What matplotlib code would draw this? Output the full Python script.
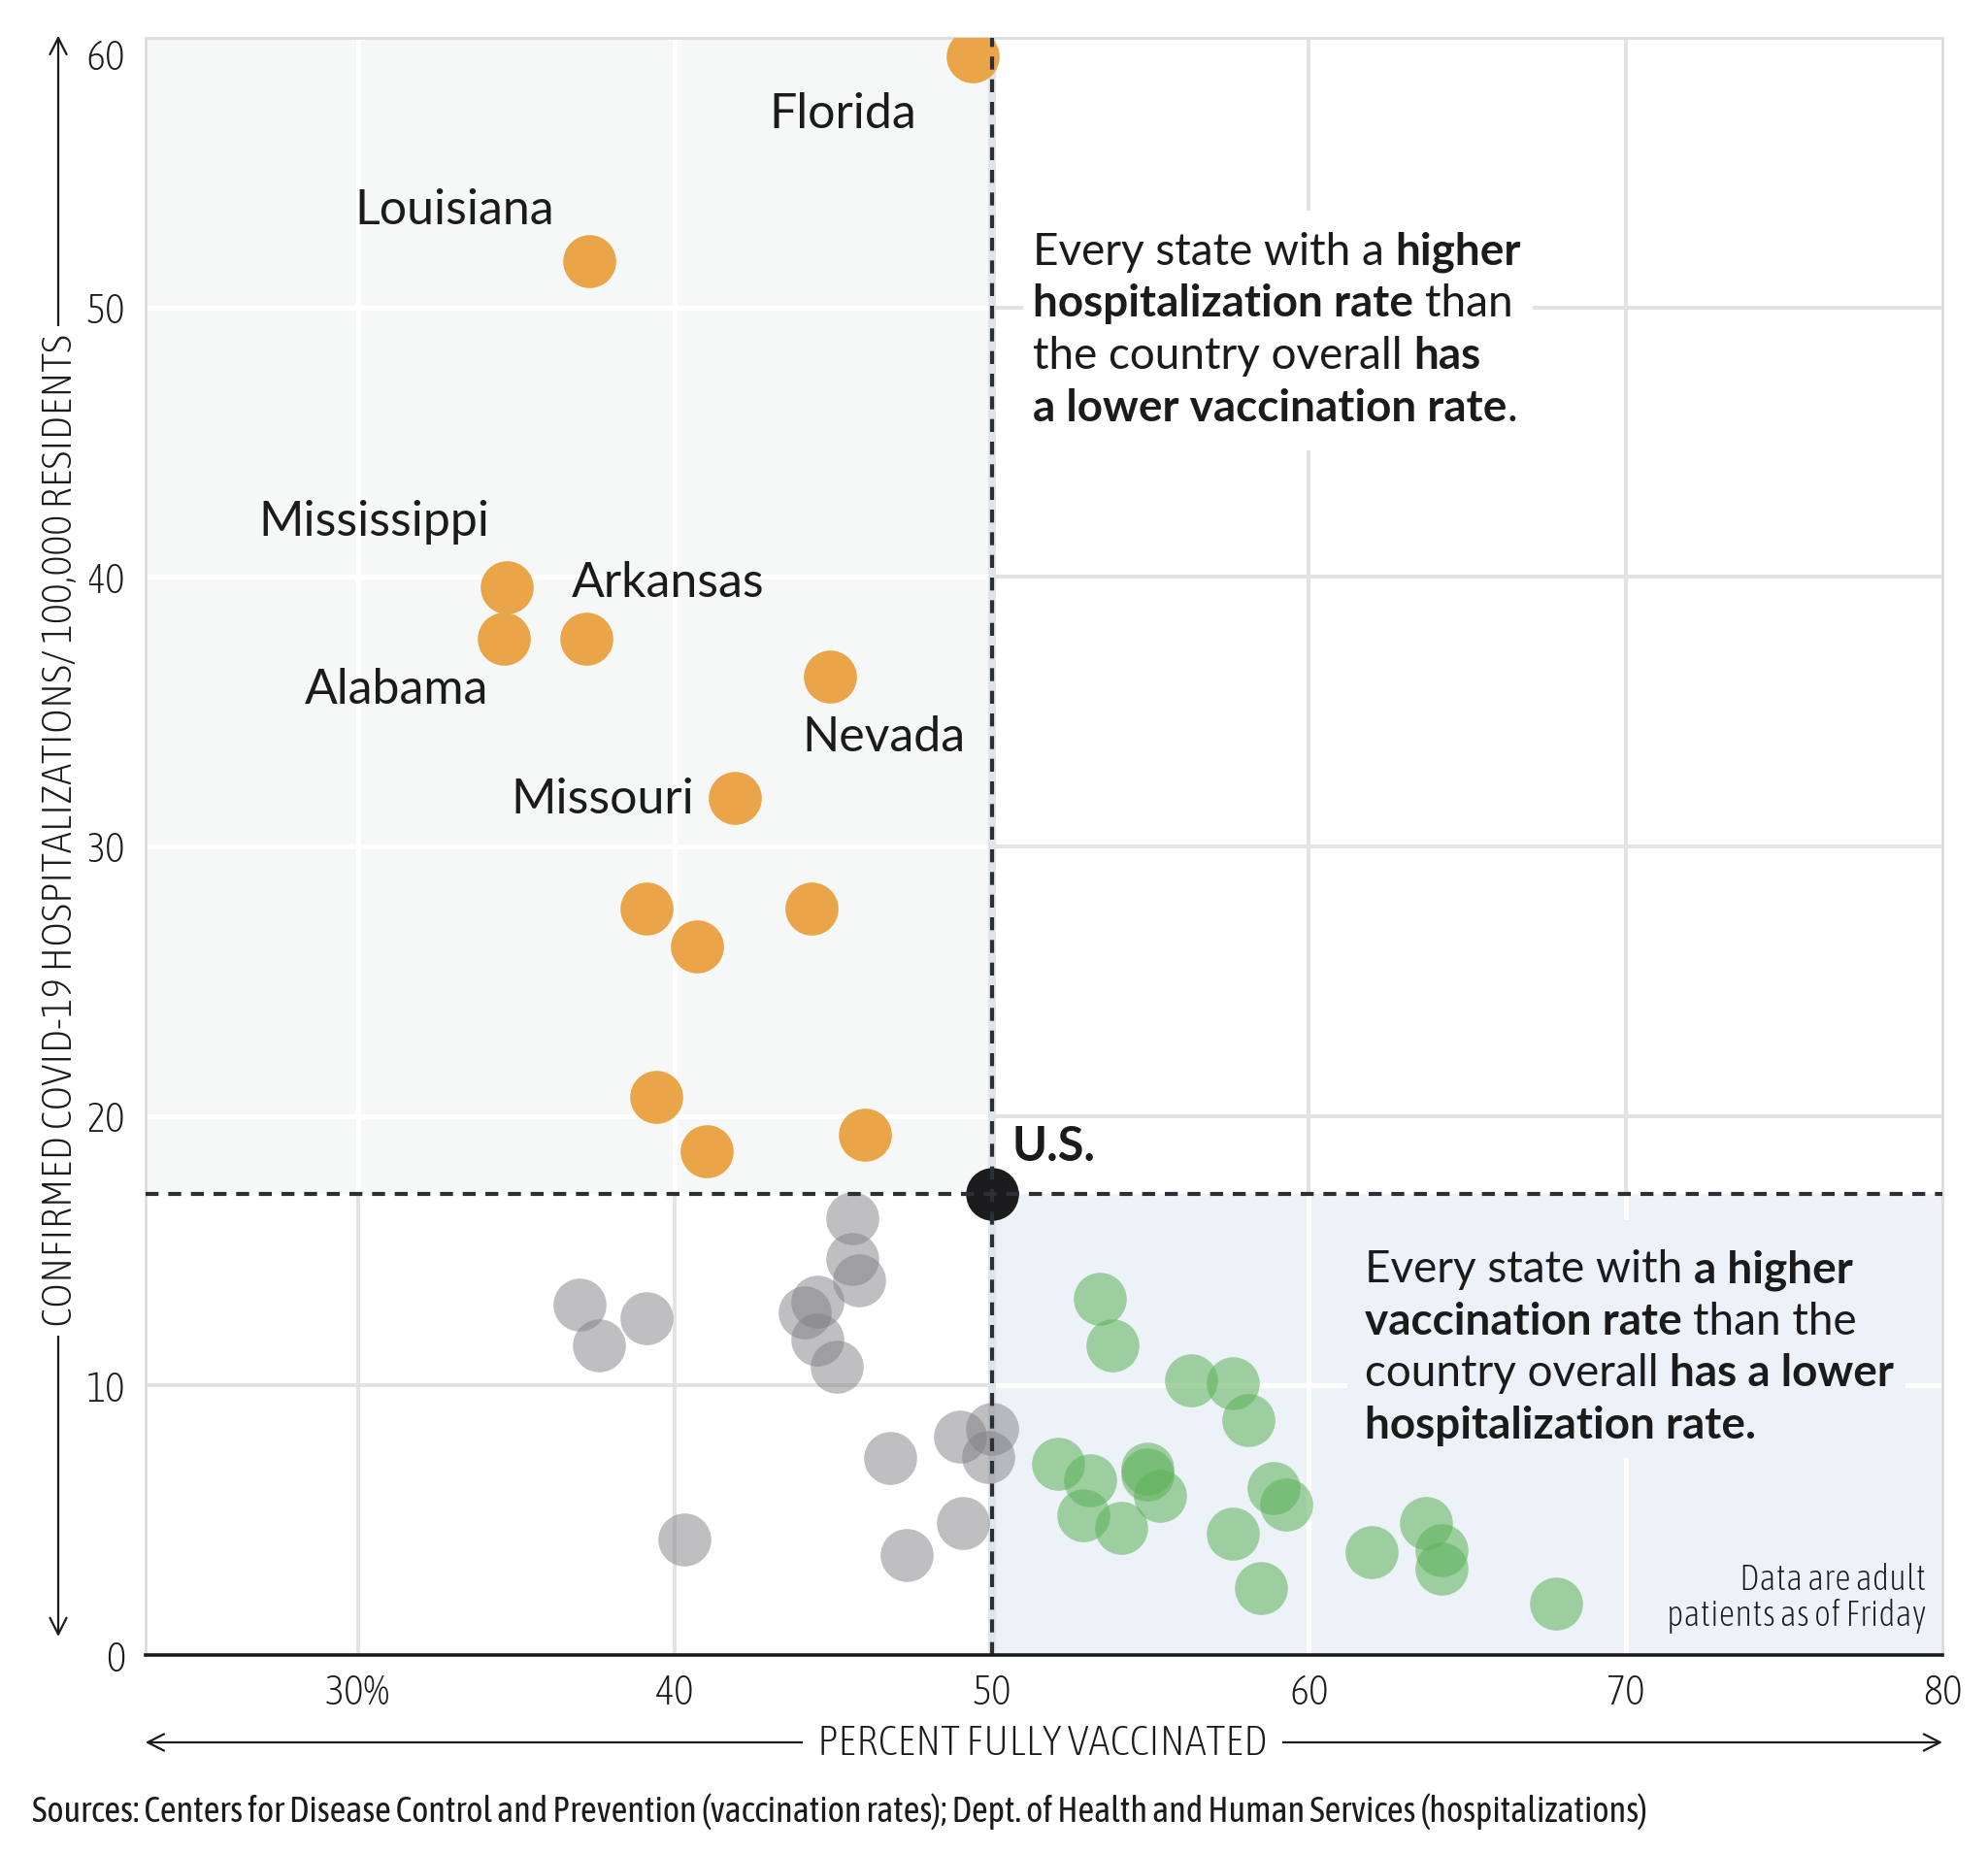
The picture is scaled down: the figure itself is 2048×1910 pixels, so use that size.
import matplotlib
matplotlib.use("Agg")
import matplotlib.pyplot as plt
from matplotlib.patches import Rectangle
from matplotlib.transforms import Bbox

# ---------------- data ----------------
orange_x = [49.4, 37.3, 34.7, 34.6, 37.2, 44.9, 41.9, 39.1, 40.7, 44.3, 39.4, 41.0, 46.0]
orange_y = [59.3, 51.7, 39.6, 37.7, 37.7, 36.3, 31.8, 27.7, 26.3, 27.7, 20.7, 18.7, 19.3]

gray_x = [45.6, 45.6, 45.8, 37.0, 39.1, 37.6, 44.1, 44.5, 44.5, 45.1, 46.8, 49.0, 50.0, 49.9, 40.3, 47.3, 49.1]
gray_y = [16.2, 14.7, 13.9, 13.0, 12.5, 11.5, 12.7, 13.1, 11.7, 10.7, 7.3, 8.1, 8.4, 7.35, 4.3, 3.7, 4.9]

green_x = [53.4, 53.8, 56.3, 57.6, 58.1, 52.1, 53.1, 54.9, 54.9, 55.3, 52.9, 54.1,
           58.9, 59.3, 57.6, 58.5, 62.0, 63.7, 64.2, 64.2, 67.8]
green_y = [13.2, 11.5, 10.2, 10.1, 8.7, 7.1, 6.5, 6.9, 6.7, 5.9, 5.2, 4.7,
           6.2, 5.6, 4.5, 2.5, 3.8, 4.9, 3.9, 3.2, 1.9]

us_x, us_y = 50.0, 17.1

state_names = ["Florida", "Louisiana", "Mississippi", "Arkansas", "Alabama", "Nevada", "Missouri"]

xticks = [30, 40, 50, 60, 70, 80]
xticklabels = ["30%", "40", "50", "60", "70", "80"]
yticks = [0, 10, 20, 30, 40, 50, 60]
yticklabels = ["0", "10", "20", "30", "40", "50", "60"]

# ---------------- layout / style ----------------
label_pos_x = [42.97, 29.91, 26.87, 36.75, 28.31, 44.02, 34.83]
label_pos_y = [56.65, 53.08, 41.51, 39.27, 35.28, 33.52, 31.24]

NARROW = ["Asap Condensed", "Liberation Sans Narrow", "DejaVu Sans"]
NARROW_KW = dict(family=NARROW, fontstretch="condensed")
LABEL = ["Lato", "DejaVu Sans"]
TXT = "#1b1b1b"
ORANGE = "#eaa548"
GRAY = "#808185"
GREEN = "#5cb257"
GRID = "#e3e3e3"
SHADE_GRAY = "#f6f7f7"
SHADE_BLUE = "#edf2f9"
DASH = "#2b3036"

W, H = 2048, 1910
fig = plt.figure(figsize=(W / 100, H / 100), dpi=100)
ax_l, ax_r, ax_t, ax_b = 149.7, 2001.0, 39.0, 1705.0
ax = fig.add_axes([ax_l / W, (H - ax_b) / H, (ax_r - ax_l) / W, (ax_b - ax_t) / H])
ax.set_xlim(23.29, 80)
ax.set_ylim(0, 60)
ax.set_facecolor("white")

# spines
for s in ["left", "top", "right"]:
    ax.spines[s].set_color("#dddddd")
    ax.spines[s].set_linewidth(2.0)
ax.spines["bottom"].set_color("#1b1b1b")
ax.spines["bottom"].set_linewidth(2.6)
ax.spines["bottom"].set_zorder(8)

# ticks
ax.set_xticks(xticks, labels=xticklabels)
ax.set_yticks(yticks, labels=yticklabels)
ax.tick_params(length=0, labelsize=31, labelcolor=TXT)
ax.tick_params(axis="x", pad=13)
ax.tick_params(axis="y", pad=15)
for lab in ax.get_xticklabels() + ax.get_yticklabels():
    lab.set_family(NARROW)
    lab.set_fontstretch("condensed")
    lab.set_fontweight("light")
for lab in ax.get_yticklabels():
    if lab.get_text() == "60":
        lab.set_verticalalignment("top")

# gridlines (gray in white areas, white inside shaded quadrants)
glw = 2.9
for xv in xticks[:-1]:
    ax.axvline(xv, color=GRID, lw=glw, zorder=0.5)
for yv in yticks[1:-1]:
    ax.axhline(yv, color=GRID, lw=glw, zorder=0.5)

x0, x1 = ax.get_xlim()
y0, y1 = ax.get_ylim()
rect_ul = Rectangle((x0, us_y), us_x - x0, y1 - us_y, facecolor=SHADE_GRAY, edgecolor="none", zorder=0.6)
rect_lr = Rectangle((us_x, y0), x1 - us_x, us_y - y0, facecolor=SHADE_BLUE, edgecolor="none", zorder=0.6)
ax.add_patch(rect_ul)
ax.add_patch(rect_lr)
for rect in (rect_ul, rect_lr):
    for xv in xticks[:-1]:
        if xv == us_x:
            continue
        ln = ax.axvline(xv, color="white", lw=glw * 1.3, zorder=0.7)
        ln.set_clip_path(rect)
    for yv in yticks[1:-1]:
        ln = ax.axhline(yv, color="white", lw=glw * 1.3, zorder=0.7)
        ln.set_clip_path(rect)
# light band under the vertical reference line
ax.axvline(us_x, color="#e1e4e8", lw=5.8, zorder=0.8)

# points
S = 1545
ax.scatter(gray_x, gray_y, s=S, color=GRAY, alpha=0.5, linewidths=0, zorder=3)
ax.scatter(green_x, green_y, s=S, color=GREEN, alpha=0.55, linewidths=0, zorder=3)
ax.scatter(orange_x, orange_y, s=S, color=ORANGE, linewidths=0, zorder=3)
ax.scatter([us_x], [us_y], s=1530, color="#1c1c1e", linewidths=0, zorder=3.5)

# reference dashed lines
ax.axhline(us_y, color=DASH, lw=3.0, linestyle=(0, (3.2, 2.4)), zorder=4)
ax.axvline(us_x, color=DASH, lw=3.0, linestyle=(0, (3.2, 2.4)), zorder=4)

# state labels
for name, lx, ly in zip(state_names, label_pos_x, label_pos_y):
    ax.text(lx, ly, name, fontsize=36, family=LABEL, color=TXT, ha="left", va="baseline", zorder=6)
ax.text(50.65, 18.33, "U.S.", fontsize=35, family=LABEL, fontweight="bold", color=TXT,
        ha="left", va="baseline", zorder=6)

# ---------------- rich text annotations ----------------
renderer = fig.canvas.get_renderer()


def text_width(s, weight, fs, family):
    t = ax.text(0, 0, s, fontsize=fs, family=family, fontweight=weight)
    w = t.get_window_extent(renderer).width
    t.remove()
    return w


def draw_rich(x, y, lines, dy, fs, family, bgcolor, pad_px=(12, 12, 14, 12)):
    texts = []
    for i, runs in enumerate(lines):
        yy = y - i * dy
        px0, py0 = ax.transData.transform((x, yy))
        cx = px0
        for s, bold in runs:
            wt = "bold" if bold else "normal"
            sw = text_width("a a", wt, fs, family) - text_width("aa", wt, fs, family)
            core = s.strip(" ")
            lead = len(s) - len(s.lstrip(" "))
            trail = len(s) - len(s.rstrip(" "))
            cx += lead * sw
            xd = ax.transData.inverted().transform((cx, py0))[0]
            t = ax.text(xd, yy, core, fontsize=fs, family=family, fontweight=wt, color=TXT,
                        ha="left", va="baseline", zorder=7)
            cx += t.get_window_extent(renderer).width + trail * sw
            texts.append(t)
    bb = Bbox.union([t.get_window_extent(renderer) for t in texts])
    l, r, b, tp = pad_px
    (dx0, dy0) = ax.transData.inverted().transform((bb.x0 - l, bb.y0 - b))
    (dx1, dy1) = ax.transData.inverted().transform((bb.x1 + r, bb.y1 + tp))
    ax.add_patch(Rectangle((dx0, dy0), dx1 - dx0, dy1 - dy0, facecolor=bgcolor,
                           edgecolor="none", zorder=1.5))


ann1 = [
    [("Every state with a ", False), ("higher", True)],
    [("hospitalization rate", True), (" than", False)],
    [("the country overall ", False), ("has", True)],
    [("a lower vaccination rate", True), (".", False)],
]
ann2 = [
    [("Every state with ", False), ("a higher", True)],
    [("vaccination rate", True), (" than the", False)],
    [("country overall ", False), ("has a lower", True)],
    [("hospitalization rate.", True)],
]
draw_rich(51.30, 51.58, ann1, 1.93, 33, LABEL, "white", pad_px=(10, 12, 22, 22))
draw_rich(61.76, 13.82, ann2, 1.93, 33, LABEL, SHADE_BLUE, pad_px=(18, 12, 12, 30))

ax.text(79.49, 2.42, "Data are adult", fontsize=26.5, fontweight="light", color=TXT,
        ha="right", va="baseline", zorder=6, **NARROW_KW)
ax.text(79.49, 1.08, "patients as of Friday", fontsize=26.5, fontweight="light", color=TXT,
        ha="right", va="baseline", zorder=6, **NARROW_KW)

# ---------------- axis titles with arrows ----------------
ax_w = ax_r - ax_l
ax_h = ax_b - ax_t
xa_y = (ax_b - 1795) / ax_h
ax.annotate("", xy=(1.0, xa_y), xytext=(0.0, xa_y), xycoords="axes fraction",
            arrowprops=dict(arrowstyle="<->,head_length=0.55,head_width=0.28", lw=1.6,
                            color=TXT, shrinkA=0, shrinkB=0, mutation_scale=22),
            annotation_clip=False, zorder=9)
ax.text(0.4993, (ax_b - 1808) / ax_h, "PERCENT FULLY VACCINATED", transform=ax.transAxes,
        fontsize=32, fontweight="light", color=TXT, ha="center", va="baseline", zorder=10,
        bbox=dict(facecolor="white", edgecolor="none", pad=11), **NARROW_KW)

ya_x = (60 - ax_l) / ax_w
ax.annotate("", xy=(ya_x, (ax_b - 36.7) / ax_h), xytext=(ya_x, (ax_b - 1686) / ax_h),
            xycoords="axes fraction",
            arrowprops=dict(arrowstyle="<->,head_length=0.55,head_width=0.28", lw=1.6,
                            color=TXT, shrinkA=0, shrinkB=0, mutation_scale=22),
            annotation_clip=False, zorder=9)
ax.text((74.5 - ax_l) / ax_w, (ax_b - 856) / ax_h,
        "CONFIRMED COVID-19 HOSPITALIZATIONS/ 100,000 RESIDENTS", transform=ax.transAxes,
        rotation=90, rotation_mode="anchor", fontsize=32, fontweight="light", color=TXT,
        ha="center", va="baseline", zorder=10,
        bbox=dict(facecolor="white", edgecolor="none", pad=6), **NARROW_KW)

fig.text(33 / W, (H - 1877) / H,
         "Sources: Centers for Disease Control and Prevention (vaccination rates); "
         "Dept. of Health and Human Services (hospitalizations)",
         fontsize=26.3, color=TXT, ha="left", va="baseline", **NARROW_KW)

fig.savefig("out.png", dpi=100, facecolor="white")
